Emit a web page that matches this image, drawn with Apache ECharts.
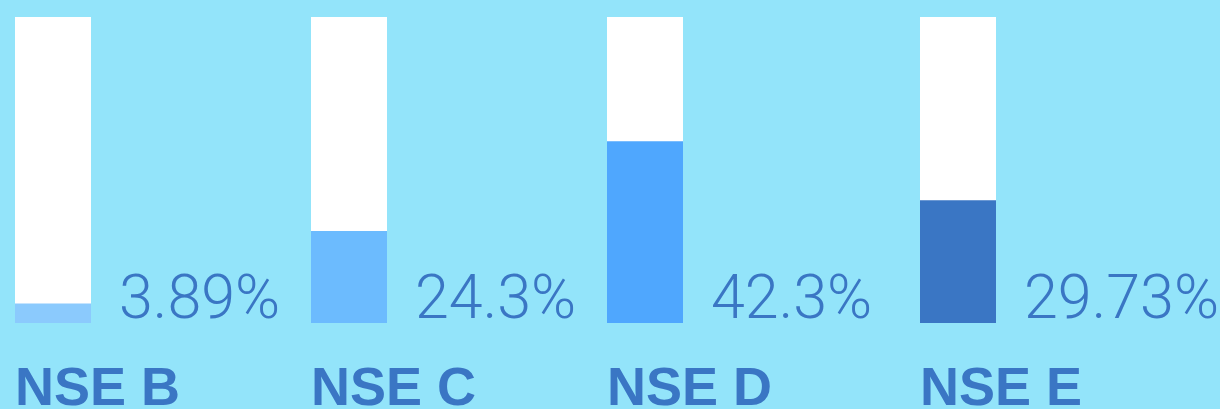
<!DOCTYPE html>
<html>
<head>
<meta charset="utf-8">
<style>
  html, body { margin: 0; padding: 0; background: #93e4fa; }
  #chart { width: 1220px; height: 409px; }
</style>
</head>
<body>
<div id="chart"></div>
<script src="https://cdn.jsdelivr.net/npm/echarts@6/dist/echarts.min.js"></script>
<script>
  // one bar per group, white track behind a coloured fill
  const categories = ['NSE B', 'NSE C', 'NSE D', 'NSE E']
  const shareValues = [3.89, 24.3, 42.3, 29.73]
  const fillLevels = [6.4, 30.1, 59.4, 40.1]
  const barColors = ['#8bcafd', '#6cbbfe', '#4fa7fe', '#3a76c4']

  const gridLefts = [15, 311, 607, 920]
  const textColor = '#3a76c4'

  const chart = echarts.init(document.getElementById('chart'))

  const grid = []
  const xAxis = []
  const yAxis = []
  const series = []

  for (let i = 0; i < categories.length; i++) {
    grid.push({ left: gridLefts[i], top: 17, width: 76, height: 306, outerBoundsMode: 'none', containLabel: false })
    xAxis.push({
      type: 'category',
      gridIndex: i,
      data: [categories[i]],
      axisLine: { show: false },
      axisTick: { show: false },
      axisLabel: {
        color: textColor,
        fontSize: 54,
        fontWeight: 'bold',
        fontFamily: 'Liberation Sans',
        lineHeight: 54,
        align: 'left',
        padding: [0, 0, 0, -38],
        margin: 40
      }
    })
    yAxis.push({ type: 'value', gridIndex: i, min: 0, max: 100, show: false })
    series.push({
      type: 'bar',
      xAxisIndex: i,
      yAxisIndex: i,
      data: [fillLevels[i]],
      barWidth: '100%',
      silent: true,
      showBackground: true,
      backgroundStyle: { color: '#ffffff', opacity: 1 },
      itemStyle: { color: barColors[i] },
      label: {
        show: true,
        position: ['100%', '100%'],
        align: 'left',
        verticalAlign: 'middle',
        offset: [28, -20],
        formatter: () => shareValues[i] + '%',
        color: textColor,
        fontSize: 61,
        fontWeight: 300,
        fontFamily: 'Roboto'
      }
    })
  }

  chart.setOption({
    backgroundColor: '#93e4fa',
    animation: false,
    grid,
    xAxis,
    yAxis,
    series
  })
</script>
</body>
</html>
